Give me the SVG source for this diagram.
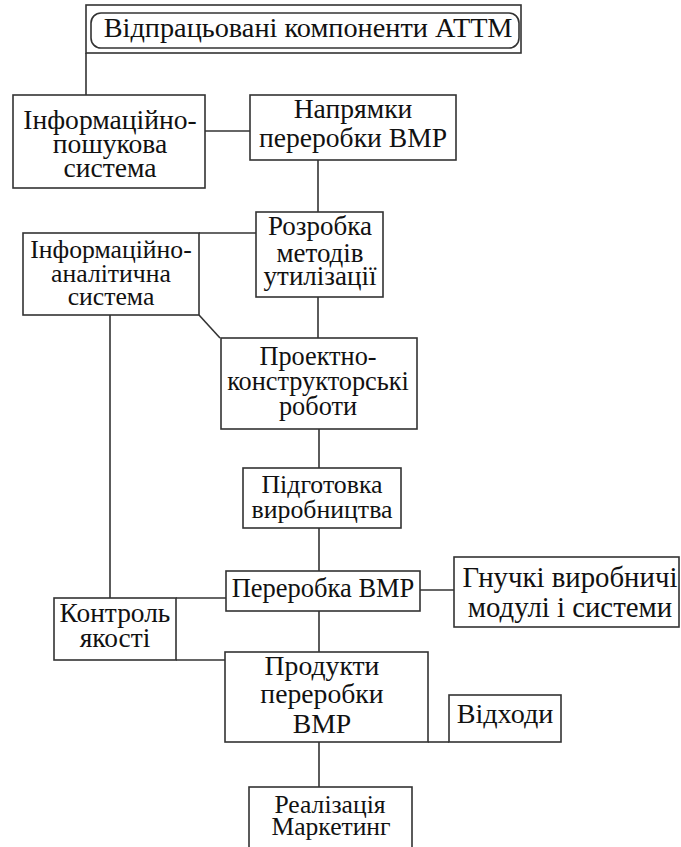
<svg xmlns="http://www.w3.org/2000/svg" width="681" height="847" viewBox="0 0 681 847">
<style>
.box{fill:#fff;stroke:#333;stroke-width:1.6}
.c{fill:none;stroke:#333;stroke-width:1.6}
text{font-family:"Liberation Serif","Times New Roman",serif;font-size:27px;fill:#111;text-anchor:middle}
</style>
<rect width="681" height="847" fill="#fff"/>
<g id="connectors" class="c">
<path d="M86,53V95"/>
<path d="M205,131H250"/>
<path d="M318,160V212"/>
<path d="M199,233H256"/>
<path d="M318,297V338"/>
<path d="M199,315L220,338"/>
<path d="M110,315V598"/>
<path d="M319,429V468"/>
<path d="M319,528V571"/>
<path d="M176,598H226"/>
<path d="M420,590H454"/>
<path d="M319,611V652"/>
<path d="M176,660H225"/>
<path d="M428,742H449"/>
<path d="M319,742V787"/>
</g>
<g id="n-top">
<rect class="box" x="86" y="5" width="435" height="48"/>
<rect class="box" x="91" y="13" width="428" height="35" rx="10"/>
<text x="308" y="37" style="font-size:28.3px">Відпрацьовані компоненти АТТМ</text>
</g>
<g id="n-ips" style="font-size:27.6px">
<rect class="box" x="13" y="95" width="192" height="93"/>
<text x="110" y="129" style="font-size:inherit">Інформаційно-</text>
<text x="110" y="153" style="font-size:inherit">пошукова</text>
<text x="110" y="177" style="font-size:inherit">система</text>
</g>
<g id="n-napr" style="font-size:27.6px">
<rect class="box" x="250" y="95" width="206" height="65"/>
<text x="353" y="118" style="font-size:inherit">Напрямки</text>
<text x="353" y="147" style="font-size:inherit">переробки ВМР</text>
</g>
<g id="n-rozr" style="font-size:27px">
<rect class="box" x="256" y="212" width="127" height="85"/>
<text x="320" y="235" style="font-size:inherit">Розробка</text>
<text x="320" y="262" style="font-size:inherit">методів</text>
<text x="320" y="285" style="font-size:inherit">утилізації</text>
</g>
<g id="n-ias" style="font-size:25.7px">
<rect class="box" x="23" y="233" width="176" height="82"/>
<text x="111" y="258" style="font-size:inherit">Інформаційно-</text>
<text x="111" y="282" style="font-size:inherit">аналітична</text>
<text x="111" y="305" style="font-size:inherit">система</text>
</g>
<g id="n-proekt" style="font-size:26.3px">
<rect class="box" x="221" y="338" width="196" height="91"/>
<text x="318" y="365" style="font-size:inherit">Проектно-</text>
<text x="318" y="390" style="font-size:inherit">конструкторські</text>
<text x="318" y="415" style="font-size:inherit">роботи</text>
</g>
<g id="n-pidg" style="font-size:25.8px">
<rect class="box" x="243" y="468" width="158" height="60"/>
<text x="322" y="493" style="font-size:inherit">Підготовка</text>
<text x="322" y="518" style="font-size:inherit">виробництва</text>
</g>
<g id="n-perer" style="font-size:26.5px">
<rect class="box" x="226" y="571" width="194" height="40"/>
<text x="323" y="597" style="font-size:inherit">Переробка ВМР</text>
</g>
<g id="n-gnuchki" style="font-size:28.8px">
<rect class="box" x="454" y="557" width="225" height="70"/>
<text x="570" y="587" style="font-size:inherit">Гнучкі виробничі</text>
<text x="570" y="617" style="font-size:inherit">модулі і системи</text>
</g>
<g id="n-kontrol" style="font-size:27.4px">
<rect class="box" x="54" y="598" width="122" height="62"/>
<text x="115" y="622" style="font-size:inherit">Контроль</text>
<text x="115" y="647" style="font-size:inherit">якості</text>
</g>
<g id="n-produkty" style="font-size:27.7px">
<rect class="box" x="225" y="652" width="203" height="90"/>
<text x="322" y="675" style="font-size:inherit">Продукти</text>
<text x="322" y="703" style="font-size:inherit">переробки</text>
<text x="322" y="733" style="font-size:inherit">ВМР</text>
</g>
<g id="n-vidhody" style="font-size:28.2px">
<rect class="box" x="449" y="695" width="112" height="47"/>
<text x="505" y="723" style="font-size:inherit">Відходи</text>
</g>
<g id="n-real" style="font-size:25.6px">
<rect class="box" x="249" y="787" width="163" height="70"/>
<text x="330" y="813" style="font-size:inherit">Реалізація</text>
<text x="331" y="835" style="font-size:inherit">Маркетинг</text>
</g>
</svg>
